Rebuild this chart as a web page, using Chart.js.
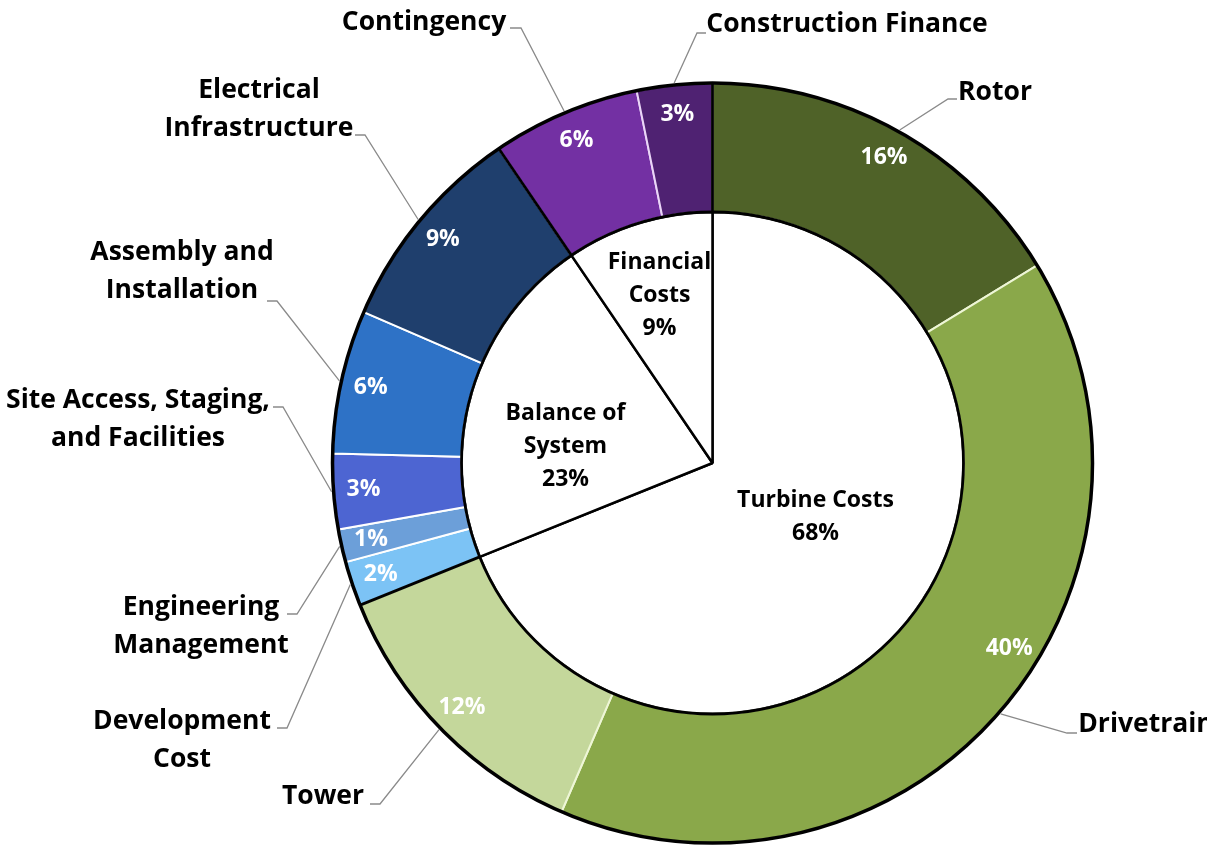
<!DOCTYPE html>
<html>
<head>
<meta charset="utf-8">
<script src="https://cdn.jsdelivr.net/npm/chart.js@4/dist/chart.umd.min.js"></script>
<style>
html, body { margin: 0; padding: 0; background: #ffffff; }
canvas { display: block; }
</style>
</head>
<body>
<canvas id="costChart" width="1207" height="845"></canvas>
<script>
// Data -----------------------------------------------------------------------------------

var componentLabels = [
    'Rotor', 'Drivetrain', 'Tower',
    ['Development', 'Cost'], ['Engineering', 'Management'],
    ['Site Access, Staging,', 'and Facilities'], ['Assembly and', 'Installation'],
    ['Electrical', 'Infrastructure'],
    'Contingency', 'Construction Finance'
];
var componentShares = [16.3, 40.2, 12.4, 1.9, 1.4, 3.2, 6.1, 9.0, 6.3, 3.2];
var componentPercentText = ['16%', '40%', '12%', '2%', '1%', '3%', '6%', '9%', '6%', '3%'];

var categoryLabels = [['Turbine Costs'], ['Balance of', 'System'], ['Financial', 'Costs']];
var categoryShares = [68.9, 21.6, 9.5];
var categoryPercentText = ['68%', '23%', '9%'];

// first component of each category (black separators go here)
var groupStartIndexes = [0, 3, 8];

// Constants ------------------------------------------------------------------------------

var FONT_FAMILY = '"Open Sans", "Liberation Sans", sans-serif';

var COMPONENT_COLORS = ['#4f6228', '#8aa84a', '#c4d79b', '#7cc3f5', '#6c9fd9', '#4d65d2',
                        '#2e72c6', '#1f3f6d', '#7330a3', '#4f2272'];
var COMPONENT_SEPARATORS = ['#eef6d6', '#eef6d6', '#eef6d6', '#ffffff', '#ffffff', '#ffffff',
                            '#ffffff', '#ffffff', '#ead6f7', '#ead6f7'];

var OUTER_RADIUS = 380;
var RING_WEIGHT = 129;
var PIE_WEIGHT = 251;

var PERCENT_RADIUS = 350;
var PERCENT_ANGLE_SHIFT = [0, -9, 0, 0, 0, 0, 0, 0, 0, 0];

var LINE_HEIGHT = 38;
var INNER_LINE_HEIGHT = 33;

// label centre x, first line centre y, elbow of the leader line, end of the short tick
var OUTER_LABEL_LAYOUT = [
    { x: 995,  y: 92,  elbow: [948, 99],  tick: 957 },
    { x: 1146, y: 724, elbow: [1067, 733], tick: 1077 },
    { x: 323,  y: 796, elbow: [380, 804], tick: 370 },
    { x: 182,  y: 721, elbow: [287, 728], tick: 277 },
    { x: 201,  y: 607, elbow: [297, 614], tick: 287 },
    { x: 138,  y: 400, elbow: [283, 407], tick: 273 },
    { x: 182,  y: 252, elbow: [277, 301], tick: 267 },
    { x: 259,  y: 90,  elbow: [365, 135], tick: 355 },
    { x: 424,  y: 22,  elbow: [521, 28],  tick: 510 },
    { x: 847,  y: 24,  elbow: [697, 33],  tick: 706 }
];

// offsets of the inner text blocks from the chart centre
var INNER_LABEL_OFFSETS = [[103, 54], [-147, -17], [-53, -168]];

// Plugins --------------------------------------------------------------------------------

function pointAt(cx, cy, r, angle) {
    return [cx + r * Math.cos(angle), cy + r * Math.sin(angle)];
}

var ringDecorations = {
    id: 'ringDecorations',
    afterDatasetsDraw: function(chart) {
        var ctx = chart.ctx;
        var ring = chart.getDatasetMeta(0).data;
        var cx = ring[0].x;
        var cy = ring[0].y;
        var outerR = ring[0].outerRadius;
        var innerR = ring[0].innerRadius;

        ctx.save();

        // black outline of the ring and the group separators
        ctx.strokeStyle = '#000000';
        ctx.lineWidth = 3.5;
        ctx.beginPath();
        ctx.arc(cx, cy, outerR, 0, Math.PI * 2);
        ctx.stroke();
        ctx.lineWidth = 2.8;
        ctx.beginPath();
        ctx.arc(cx, cy, innerR, 0, Math.PI * 2);
        ctx.stroke();

        groupStartIndexes.forEach(function(index) {
            var a = ring[index].startAngle;
            var p1 = pointAt(cx, cy, innerR, a);
            var p2 = pointAt(cx, cy, outerR, a);
            ctx.beginPath();
            ctx.moveTo(p1[0], p1[1]);
            ctx.lineTo(p2[0], p2[1]);
            ctx.stroke();
        });

        // percentages in the ring
        ctx.fillStyle = '#ffffff';
        ctx.font = 'bold 23px ' + FONT_FAMILY;
        ctx.textAlign = 'center';
        ctx.textBaseline = 'middle';
        ring.forEach(function(arc, i) {
            var mid = (arc.startAngle + arc.endAngle) / 2 + PERCENT_ANGLE_SHIFT[i] * Math.PI / 180;
            var p = pointAt(cx, cy, PERCENT_RADIUS, mid);
            ctx.fillText(componentPercentText[i], p[0], p[1]);
        });

        // leader lines
        ctx.strokeStyle = '#8a8a8a';
        ctx.lineWidth = 1.3;
        ring.forEach(function(arc, i) {
            var layout = OUTER_LABEL_LAYOUT[i];
            var mid = (arc.startAngle + arc.endAngle) / 2;
            var p = pointAt(cx, cy, outerR + 2, mid);
            ctx.beginPath();
            ctx.moveTo(p[0], p[1]);
            ctx.lineTo(layout.elbow[0], layout.elbow[1]);
            ctx.lineTo(layout.tick, layout.elbow[1]);
            ctx.stroke();
        });

        // outside labels
        ctx.fillStyle = '#000000';
        ctx.font = 'bold 26.5px ' + FONT_FAMILY;
        componentLabels.forEach(function(label, i) {
            var lines = [].concat(label);
            var layout = OUTER_LABEL_LAYOUT[i];
            lines.forEach(function(line, k) {
                ctx.fillText(line, layout.x, layout.y + k * LINE_HEIGHT);
            });
        });

        // labels of the inner pie
        ctx.font = 'bold 23px ' + FONT_FAMILY;
        categoryLabels.forEach(function(label, i) {
            var lines = [].concat(label, categoryPercentText[i]);
            var top = cy + INNER_LABEL_OFFSETS[i][1] - (lines.length - 1) * INNER_LINE_HEIGHT / 2;
            lines.forEach(function(line, k) {
                ctx.fillText(line, cx + INNER_LABEL_OFFSETS[i][0], top + k * INNER_LINE_HEIGHT);
            });
        });

        ctx.restore();
    }
};

// Chart ----------------------------------------------------------------------------------

var context = document.getElementById('costChart').getContext('2d');

var chart = new Chart(context, {
    type: 'doughnut',
    data: {
        labels: componentLabels,
        datasets: [{
            data: componentShares,
            backgroundColor: COMPONENT_COLORS,
            borderColor: COMPONENT_SEPARATORS,
            borderWidth: 2,
            weight: RING_WEIGHT
        }, {
            data: categoryShares,
            backgroundColor: '#ffffff',
            borderColor: '#000000',
            borderWidth: 2.5,
            weight: PIE_WEIGHT
        }]
    },
    options: {
        responsive: false,
        animation: false,
        cutout: 0,
        radius: OUTER_RADIUS,
        layout: { padding: { left: 218, top: 81, right: 0, bottom: 0 } },
        plugins: {
            legend: { display: false },
            tooltip: { enabled: false }
        }
    },
    plugins: [ringDecorations]
});
</script>
</body>
</html>
